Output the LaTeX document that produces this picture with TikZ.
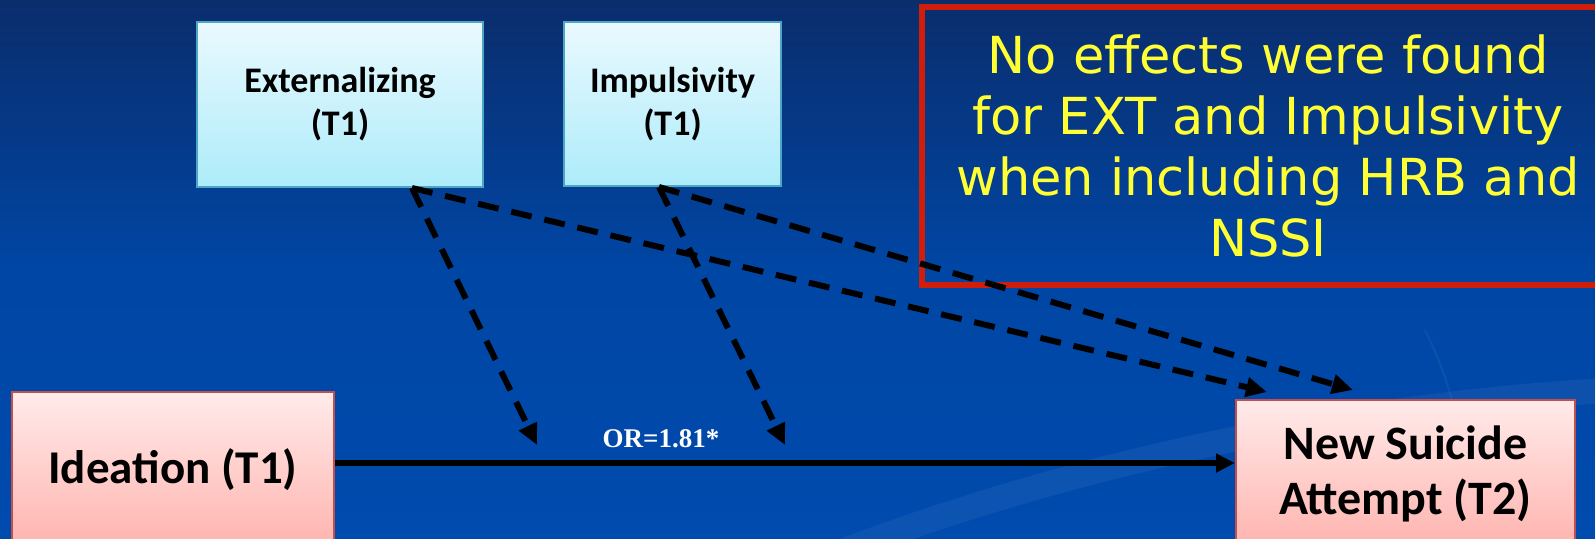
\documentclass[tikz,border=0pt]{standalone}
\usepackage{fontspec}
\setmainfont{Carlito}
\newfontfamily\notefont{DejaVu Sans}
\newfontfamily\orfont{Liberation Serif}
\usetikzlibrary{arrows.meta}
\definecolor{bgtop}{HTML}{0A2D6C}
\definecolor{bgmid}{HTML}{0046A4}
\definecolor{bgbot}{HTML}{004BAE}
\definecolor{cyantop}{HTML}{EAF9FE}
\definecolor{cyanbot}{HTML}{ADECFA}
\definecolor{cyanedge}{HTML}{4DA6C6}
\definecolor{pinktop}{HTML}{FFEBEA}
\definecolor{pinkbot}{HTML}{FFB3AE}
\definecolor{pinkedge}{HTML}{C0504D}
\definecolor{notered}{HTML}{D01E0A}
\definecolor{noteyellow}{HTML}{FFFF33}
\tikzset{
  x=1pt, y=-1pt,
  cbox/.style={draw=cyanedge, line width=2pt, top color=cyantop, bottom color=cyanbot, align=center, font=\bfseries\fontsize{36}{43}\selectfont, text=black, inner sep=0pt},
  pbox/.style={draw=pinkedge, line width=2pt, top color=pinktop, bottom color=pinkbot, align=center, font=\bfseries\fontsize{48}{55}\selectfont, text=black, inner sep=0pt},
  dasharrow/.style={line width=6pt, dash pattern=on 21pt off 13pt, -{Triangle[length=21pt,width=19pt]}, black},
  solidarrow/.style={line width=5.5pt, -{Triangle[length=19pt,width=18pt]}, black},
}
\begin{document}
\begin{tikzpicture}
\useasboundingbox (0,0) rectangle (1595,538);
% background
\shade[top color=bgtop, bottom color=bgbot, middle color=bgmid] (0,0) rectangle (1595,538);
\draw[white, opacity=0.05, line width=25pt] (820,560) .. controls (1100,450) and (1400,400) .. (1620,390);
\draw[white, opacity=0.05, line width=2pt] (1425,330) .. controls (1460,400) and (1470,470) .. (1460,540);
% nodes
\node[cbox, minimum width=286pt, minimum height=165pt] (ext) at (340,104.5) {Externalizing\\(T1)};
\node[cbox, minimum width=217pt, minimum height=164pt] (imp) at (672.5,104) {Impulsivity\\(T1)};
\node[pbox, minimum width=322pt, minimum height=156pt, font=\bfseries\fontsize{47}{55}\selectfont] (ide) at (173,470) {Ideation (T1)};
\node[pbox, minimum width=339pt, minimum height=148pt] (nsa) at (1405.5,474) {New Suicide\\Attempt (T2)};
\node[draw=notered, line width=6pt, minimum width=700pt, minimum height=278pt, inner sep=0pt] (note) at (1272,146) {};
\node[text=noteyellow, align=center, font=\notefont\fontsize{51}{61}\selectfont] (notetext) at (1268,146) {No effects were found\\for EXT and Impulsivity\\when including HRB and\\NSSI};
% connectors
\coordinate (extS) at ([xshift=216pt]ext.south west);
\coordinate (impS) at ([xshift=96pt]imp.south west);
\coordinate (m1) at (537,445);
\coordinate (m2) at (785,445);
\coordinate (t1) at (1267,392);
\coordinate (t2) at (1353,390);
\draw[solidarrow] (ide.east |- 0,463) -- (nsa.west |- 0,463);
\node[text=white, font=\orfont\bfseries\fontsize{27}{30}\selectfont, anchor=base] (or) at (661,447) {OR=1.81*};
\draw[dasharrow] (extS) -- (m1);
\draw[dasharrow] (extS) -- (t1);
\draw[dasharrow] (impS) -- (m2);
\draw[dasharrow] (impS) -- (t2);
\end{tikzpicture}
\end{document}
